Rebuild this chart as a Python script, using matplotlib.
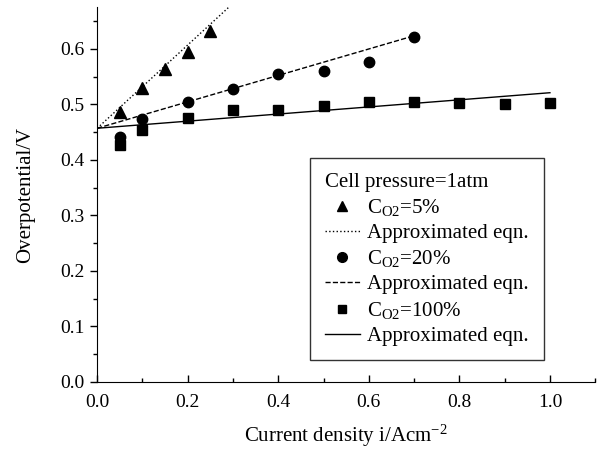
import numpy as np
import matplotlib
matplotlib.use("Agg")
import matplotlib.pyplot as plt
from matplotlib.lines import Line2D

plt.rcParams["font.family"] = ["Liberation Serif", "DejaVu Serif"]
plt.rcParams["mathtext.fontset"] = "custom"
plt.rcParams["mathtext.rm"] = "Liberation Serif"
plt.rcParams["mathtext.it"] = "Liberation Serif:italic"

# ── data ─────────────────────────────────────────────────
x_5 = [0.05, 0.10, 0.15, 0.20, 0.25]
y_5 = [0.487, 0.529, 0.564, 0.595, 0.633]

x_20 = [0.05, 0.10, 0.20, 0.30, 0.40, 0.50, 0.60, 0.70]
y_20 = [0.442, 0.474, 0.505, 0.528, 0.554, 0.560, 0.576, 0.621]

x_100 = [0.05, 0.10, 0.20, 0.30, 0.40, 0.50, 0.60, 0.70, 0.80, 0.90, 1.00]
y_100 = [0.427, 0.453, 0.476, 0.490, 0.490, 0.497, 0.505, 0.505, 0.502, 0.500, 0.503]

# approximated eqn: eta = a + b*i
intercept = 0.457
slopes = {"5": 0.75, "20": 0.238, "100": 0.064}
x_end = {"5": 0.30, "20": 0.70, "100": 1.00}

# ── plot ──────────────────────────────────────────────────
fig = plt.figure(figsize=(6.0, 4.51), dpi=100)
ax = fig.add_axes([0.162, 0.153, 0.830, 0.831])

ms = dict(color="black", linestyle="none")
ax.plot(x_5, y_5, marker="^", markersize=8.5, **ms)
ax.plot(x_20, y_20, marker="o", markersize=7.5, **ms)
ax.plot(x_100, y_100, marker="s", markersize=6.5, **ms)

styles = {"5": ":", "20": "--", "100": "-"}
for k in ["5", "20", "100"]:
    xx = np.array([0.0, x_end[k]])
    ax.plot(xx, intercept + slopes[k] * xx, color="black",
            linestyle=styles[k], linewidth=1.0)

ax.set_xlim(0, 1.1)
ax.set_ylim(0, 0.675)
ax.set_xticks([0.0, 0.2, 0.4, 0.6, 0.8, 1.0])
ax.set_xticks(np.arange(0.1, 1.11, 0.2), minor=True)
ax.set_yticks([0.0, 0.1, 0.2, 0.3, 0.4, 0.5, 0.6])
ax.set_yticks(np.arange(0.05, 0.66, 0.1), minor=True)
ax.xaxis.set_major_formatter(matplotlib.ticker.FormatStrFormatter("%.1f"))
ax.yaxis.set_major_formatter(matplotlib.ticker.FormatStrFormatter("%.1f"))

ax.spines["top"].set_visible(False)
ax.spines["right"].set_visible(False)
ax.tick_params(axis="x", direction="in", length=5, width=1, labelsize=14, pad=9)
ax.tick_params(axis="x", which="minor", direction="in", length=3, width=1)
ax.tick_params(axis="y", direction="out", length=5, width=1, labelsize=14, pad=4)
ax.tick_params(axis="y", which="minor", direction="out", length=3, width=1)

ax.set_xlabel(r"Current density i/Acm$^{-2}$", fontsize=15, labelpad=8)
ax.set_ylabel("Overpotential/V", fontsize=15, labelpad=18)

handles = [
    Line2D([], [], color="black", marker="^", markersize=7, linestyle="none"),
    Line2D([], [], color="black", linestyle=":", linewidth=1),
    Line2D([], [], color="black", marker="o", markersize=7, linestyle="none"),
    Line2D([], [], color="black", linestyle="--", linewidth=1),
    Line2D([], [], color="black", marker="s", markersize=6, linestyle="none"),
    Line2D([], [], color="black", linestyle="-", linewidth=1),
]
labels = [
    r"C$_{\mathrm{O2}}$=5%", "Approximated eqn.",
    r"C$_{\mathrm{O2}}$=20%", "Approximated eqn.",
    r"C$_{\mathrm{O2}}$=100%", "Approximated eqn.",
]
leg = fig.legend(handles, labels, title="Cell pressure=1atm",
                 loc="upper left", bbox_to_anchor=(310 / 600, 1 - 158 / 451),
                 fontsize=15, title_fontsize=15, frameon=True, fancybox=False,
                 edgecolor="black", handlelength=1.7, handletextpad=0.35,
                 labelspacing=0.26, borderpad=0.7, borderaxespad=0,
                 alignment="left")
leg.get_frame().set_linewidth(1.0)

fig.savefig("out.png", dpi=100)
